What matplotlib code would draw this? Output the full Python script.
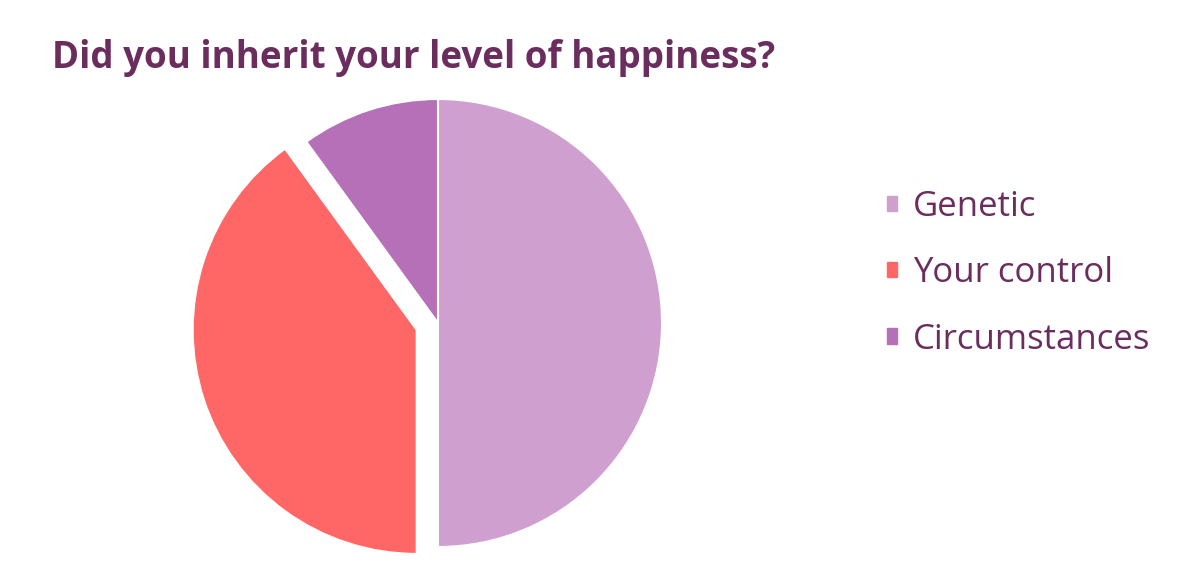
import matplotlib.pyplot as plt
import matplotlib.patches as mpatches

labels = ['Genetic', 'Your control', 'Circumstances']
shares = [50, 40, 10]
colors = ['#CF9FD0', '#FF6666', '#B570B8']
explode = [0, 0.1, 0]

text_color = '#6B2D5E'

fig = plt.figure(figsize=(11.88, 5.75), dpi=100)

# pie axes: center (438, 323) px, radius 224 px
cx, cy, r = 438, 323, 224
ax = fig.add_axes([(cx - r) / 1188, (575 - cy - r) / 575, 2 * r / 1188, 2 * r / 575])
wedges, _ = ax.pie(shares, colors=colors, explode=explode, startangle=90,
                   counterclock=False, radius=1,
                   wedgeprops=dict(edgecolor='white', linewidth=1.5))
for w in wedges:
    w.set_clip_on(False)
ax.set_xlim(-1, 1)
ax.set_ylim(-1, 1)
ax.set_aspect('equal')
ax.axis('off')

fig.text(52 / 1188, 1 - 68 / 575, 'Did you inherit your level of happiness?',
         fontsize=26.5, fontweight='bold', color=text_color, family='Open Sans',
         ha='left', va='baseline')

handles = [mpatches.Patch(color=c, label=l) for c, l in zip(colors, labels)]
leg = fig.legend(handles=handles, loc='upper left',
                 bbox_to_anchor=(887 / 1188, 1 - 190 / 575),
                 frameon=False,
                 prop=dict(family='Open Sans', size=25),
                 handlelength=0.3, handleheight=0.3, handletextpad=0.45,
                 labelspacing=0.93, borderaxespad=0, borderpad=0)
for t in leg.get_texts():
    t.set_color(text_color)

fig.savefig('out.png', dpi=100)
